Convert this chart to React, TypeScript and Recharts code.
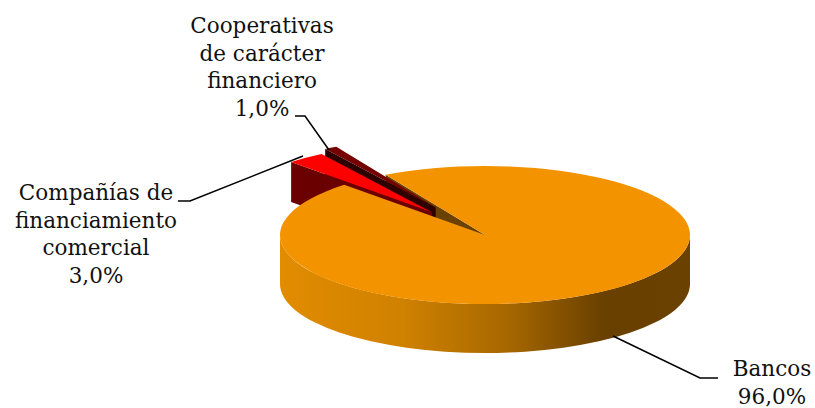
import { PieChart, Pie } from "recharts";

const categories = ["Compañías de financiamiento comercial", "Cooperativas de carácter financiero", "Bancos"];
const shares = [3, 1, 96];
const labelLines = [
  ["Compañías de", "financiamiento", "comercial"],
  ["Cooperativas", "de carácter", "financiero"],
  ["Bancos"],
];

const WIDTH = 815;
const HEIGHT = 408;
const CX = 485;
const CY = 235;
const RX = 205;
const RY = 69;
const RAD = Math.PI / 180;
const START = 133.4;

const TOP = ["#ff0000", "#750000", "#f49300"];
const FACE = ["#6b0000", "#2e0000", "#6b4100"];
const DEPTH = [40, 40, 49];
const EXPLODE = [0.42, 0.47, 0];

// where each label sits, and its leader line
const LABEL_X = [96, 262, 772];
const LABEL_Y = [200, 33, 376];
const LEADERS = [
  "M178 201 L190 201 L303 156",
  "M295 116 L305 116 L329 150",
  "M613 336 L700 378 L718 378",
];

const rows = categories.map((name, i) => ({ name, value: shares[i] }));

const pt = (cx: number, cy: number, deg: number) => [
  cx + RX * Math.cos(deg * RAD),
  cy - RY * Math.sin(deg * RAD),
];

function offset(p: any) {
  const mid = (p.startAngle + p.endAngle) / 2;
  const e = EXPLODE[p.index];
  const [x, y] = pt(0, 0, mid);
  return [p.cx + x * e, p.cy + y * e];
}

// the cut side along the slice's first edge, dropped by the slice depth
function cutFace(p: any) {
  const [ax, ay] = offset(p);
  const [sx, sy] = pt(ax, ay, p.startAngle);
  const d = DEPTH[p.index];
  return (
    <path
      d={`M${ax} ${ay} L${sx} ${sy} L${sx} ${sy + d} L${ax} ${ay + d} Z`}
      fill={FACE[p.index]}
    />
  );
}

function topFace(p: any) {
  const [ax, ay] = offset(p);
  const [sx, sy] = pt(ax, ay, p.startAngle);
  const [ex, ey] = pt(ax, ay, p.endAngle);
  const large = p.startAngle - p.endAngle > 180 ? 1 : 0;
  return (
    <path
      d={`M${ax} ${ay} L${sx} ${sy} A${RX} ${RY} 0 ${large} 1 ${ex} ${ey} Z`}
      fill={TOP[p.index]}
    />
  );
}

function frontWall(p: any) {
  const d = DEPTH[p.index];
  const l = p.cx - RX;
  const r = p.cx + RX;
  return (
    <g>
      <defs>
        <linearGradient id="wall" x1="0" y1="0" x2="1" y2="0">
          <stop offset="0" stopColor="#e28c00" />
          <stop offset="0.3" stopColor="#cf8100" />
          <stop offset="0.55" stopColor="#a86800" />
          <stop offset="0.79" stopColor="#694000" />
          <stop offset="1" stopColor="#6b4100" />
        </linearGradient>
      </defs>
      <path
        d={`M${l} ${p.cy} A${RX} ${RY} 0 0 0 ${r} ${p.cy} L${r} ${p.cy + d} A${RX} ${RY} 0 0 1 ${l} ${p.cy + d} Z`}
        fill="url(#wall)"
      />
    </g>
  );
}

// painted back to front: cut of the big slice, far small slice, near slice + big slice
function bancosCutShape(p: any) {
  return p.index === 2 ? cutFace(p) : <g />;
}

function coopShape(p: any) {
  if (p.index !== 1) return <g />;
  return (
    <g>
      {cutFace(p)}
      {topFace(p)}
    </g>
  );
}

function frontShape(p: any) {
  if (p.index === 1) return <g />;
  return (
    <g>
      {p.index === 0 && cutFace(p)}
      {p.index === 2 && frontWall(p)}
      {topFace(p)}
    </g>
  );
}

function renderLabel(p: any) {
  const i = p.index;
  const lines = [...labelLines[i], `${shares[i].toFixed(1).replace(".", ",")}%`];
  return (
    <g key={i}>
      <path d={LEADERS[i]} fill="none" stroke="#000" strokeWidth={1.5} />
      <text
        textAnchor="middle"
        fontFamily="'DejaVu Serif', serif"
        fontSize={21.5}
        fill="#111"
      >
        {lines.map((t, n) => (
          <tspan key={n} x={LABEL_X[i]} y={LABEL_Y[i] + n * 27.5}>
            {t}
          </tspan>
        ))}
      </text>
    </g>
  );
}

export default function App() {
  return (
    <div style={{ position: "absolute", left: 0, top: 0, width: WIDTH, height: HEIGHT, background: "#fff" }}>
      <PieChart width={WIDTH} height={HEIGHT} margin={{ top: 0, right: 0, bottom: 0, left: 0 }}>
        <Pie
          data={rows}
          dataKey="value"
          nameKey="name"
          cx={CX}
          cy={CY}
          outerRadius={RX}
          startAngle={START}
          endAngle={START - 360}
          stroke="none"
          shape={bancosCutShape}
          isAnimationActive={false}
        />
        <Pie
          data={rows}
          dataKey="value"
          nameKey="name"
          cx={CX}
          cy={CY}
          outerRadius={RX}
          startAngle={START}
          endAngle={START - 360}
          stroke="none"
          shape={coopShape}
          isAnimationActive={false}
        />
        <Pie
          data={rows}
          dataKey="value"
          nameKey="name"
          cx={CX}
          cy={CY}
          outerRadius={RX}
          startAngle={START}
          endAngle={START - 360}
          stroke="none"
          shape={frontShape}
          label={renderLabel}
          labelLine={false}
          isAnimationActive={false}
        />
      </PieChart>
    </div>
  );
}
